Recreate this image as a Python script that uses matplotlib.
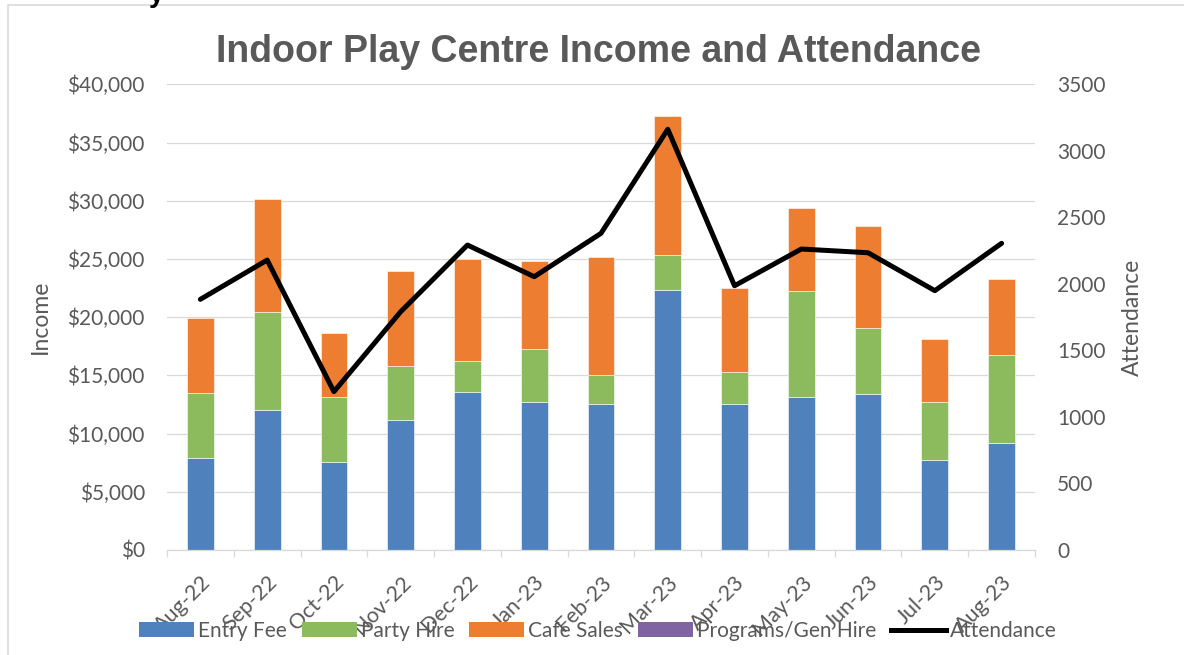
import matplotlib
matplotlib.use("Agg")
import matplotlib.pyplot as plt
import matplotlib.transforms as mtransforms
from matplotlib.patches import Patch
from matplotlib.lines import Line2D
import numpy as np

months = ["Aug-22", "Sep-22", "Oct-22", "Nov-22", "Dec-22", "Jan-23", "Feb-23",
          "Mar-23", "Apr-23", "May-23", "Jun-23", "Jul-23", "Aug-23"]
entry_fee = [7930, 12050, 7590, 11170, 13600, 12710, 12540, 22360, 12570, 13140, 13430, 7760, 9160]
party_hire = [5530, 8370, 5530, 4670, 2600, 4590, 2460, 2980, 2700, 9080, 5640, 4930, 7560]
cafe_sales = [6500, 9710, 5480, 8130, 8800, 7530, 10140, 11950, 7240, 7160, 8770, 5440, 6560]
programs = [0, 0, 0, 0, 0, 0, 0, 0, 0, 0, 0, 0, 0]
attendance = [1884, 2179, 1190, 1791, 2292, 2054, 2380, 3162, 1986, 2262, 2234, 1949, 2305]

left_ticks = [0, 5000, 10000, 15000, 20000, 25000, 30000, 35000, 40000]
left_labels = ["$0", "$5,000", "$10,000", "$15,000", "$20,000", "$25,000", "$30,000", "$35,000", "$40,000"]
right_ticks = [0, 500, 1000, 1500, 2000, 2500, 3000, 3500]

C_BLUE = "#4F81BD"
C_GREEN = "#8BBB5C"
C_ORANGE = "#ED7D31"
C_PURPLE = "#8064A2"
TXT = "#595959"
GRID = "#D9D9D9"

plt.rcParams["font.family"] = ["Lato", "DejaVu Sans"]

W, H = 1184, 655
fig = plt.figure(figsize=(W / 100, H / 100), dpi=100)
ax = fig.add_axes([167 / W, 1 - 550 / H, (1035 - 167) / W, (550 - 84.3) / H])

x = np.arange(len(months))
bw = 0.4
e = np.array(entry_fee)
p = np.array(party_hire)
c = np.array(cafe_sales)
g = np.array(programs)
ax.bar(x, e, bw, color=C_BLUE, edgecolor="white", linewidth=0.4, zorder=2)
ax.bar(x, p, bw, bottom=e, color=C_GREEN, edgecolor="white", linewidth=0.4, zorder=2)
ax.bar(x, c, bw, bottom=e + p, color=C_ORANGE, edgecolor="white", linewidth=0.4, zorder=2)
ax.bar(x, g, bw, bottom=e + p + c, color=C_PURPLE, linewidth=0, zorder=2)

ax.set_xlim(-0.5, len(months) - 0.5)
ax.set_ylim(0, 40000)
ax.set_yticks(left_ticks)
ax.set_yticklabels(left_labels)
ax.yaxis.grid(True, color=GRID, linewidth=0.9, zorder=0)
ax.set_axisbelow(True)
for s in ["top", "right", "left"]:
    ax.spines[s].set_visible(False)
ax.spines["bottom"].set_color(GRID)
ax.spines["bottom"].set_linewidth(0.9)
ax.tick_params(axis="y", length=0, pad=16, labelsize=15, labelcolor=TXT)

ax.set_xticks(x)
ax.set_xticklabels(months)
ax.set_xticks(np.arange(-0.5, len(months), 1.0), minor=True)
ax.tick_params(axis="x", which="major", length=0, pad=21, labelsize=15.5, labelcolor=TXT)
ax.tick_params(axis="x", which="minor", length=5, color=GRID, width=0.9)
offset = mtransforms.ScaledTranslation(7 / 100, 0, fig.dpi_scale_trans)
for lab in ax.get_xticklabels():
    lab.set_rotation(45)
    lab.set_ha("right")
    lab.set_va("center")
    lab.set_rotation_mode("anchor")
    lab.set_transform(lab.get_transform() + offset)

ax.set_ylabel("Income", fontsize=16.5, color=TXT, labelpad=12)

ax2 = ax.twinx()
ax2.plot(x, attendance, color="black", linewidth=3.6, solid_joinstyle="round",
         solid_capstyle="round", zorder=3)
ax2.set_ylim(0, 3500)
ax2.set_yticks(right_ticks)
for s in ["top", "right", "left", "bottom"]:
    ax2.spines[s].set_visible(False)
ax2.tick_params(axis="y", length=0, pad=16, labelsize=15, labelcolor=TXT)
ax2.set_ylabel("Attendance", fontsize=16.5, color=TXT, labelpad=12)

fig.text(599 / W, 1 - 62 / H, "Indoor Play Centre Income and Attendance",
         ha="center", va="baseline", fontsize=27, fontweight="bold",
         color=TXT, family=["Liberation Sans", "DejaVu Sans"])

handles = [Patch(facecolor=C_BLUE), Patch(facecolor=C_GREEN), Patch(facecolor=C_ORANGE),
           Patch(facecolor=C_PURPLE), Line2D([0], [0], color="black", linewidth=3.6)]
labels = ["Entry Fee", "Party Hire", "Cafe Sales", "Programs/Gen Hire", "Attendance"]
leg = fig.legend(handles, labels, loc="center", bbox_to_anchor=(598 / W, 1 - 631 / H),
                 ncol=5, frameon=False, fontsize=15, handlelength=2.64, handleheight=0.7,
                 handletextpad=0.2, columnspacing=0.7, borderpad=0, borderaxespad=0)
for t in leg.get_texts():
    t.set_color(TXT)

# outer chart border (left and top visible)
fig.add_artist(Line2D([8 / W, 8 / W, 1.0], [0.0, 1 - 5 / H, 1 - 5 / H],
                      transform=fig.transFigure, color=GRID, linewidth=1.2))
# clipped fragment of text above the chart (as in the reference)
fig.text(157 / W, 1 - 2 / H, "y", ha="center", va="baseline", fontsize=20,
         fontweight="bold", color="black", family=["Liberation Sans", "DejaVu Sans"])

fig.savefig("out.png", dpi=100)
